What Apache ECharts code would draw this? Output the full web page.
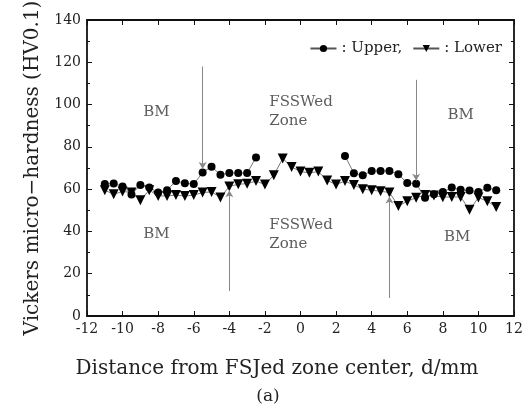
<!DOCTYPE html>
<html>
<head>
<meta charset="utf-8">
<script src="https://cdn.jsdelivr.net/npm/echarts@6/dist/echarts.min.js"></script>
<style>
html,body{margin:0;padding:0;background:#fff;}
#c{width:527px;height:419px;}
</style>
</head>
<body>
<div id="c"></div>
<script>
var distance = [-11,-10.5,-10,-9.5,-9,-8.5,-8,-7.5,-7,-6.5,-6,-5.5,-5,-4.5,-4,-3.5,-3,-2.5,-2,-1.5,-1,-0.5,0,0.5,1,1.5,2,2.5,3,3.5,4,4.5,5,5.5,6,6.5,7,7.5,8,8.5,9,9.5,10,10.5,11];
var upper = [62.4,62.7,61.3,57.5,62,60.8,58.4,59.5,63.8,62.8,62.4,67.9,70.6,66.8,67.6,67.6,67.6,75,
             null,null,null,null,null,null,null,null,null,
             75.7,67.5,66.6,68.6,68.6,68.6,67,62.9,62.6,55.9,57.6,58.6,60.8,59.7,59.4,58.6,60.7,59.5];
var lower = [59.5,57.6,58.9,58.4,54.8,59.5,56.8,56.8,57.2,56.7,57.2,58.4,58.7,56.1,61.3,62.3,62.6,63.8,62.2,66.6,74.5,70.5,68.3,67.7,68.3,64.1,62.2,63.8,62,60,59.5,59,58.4,52,54.3,55.9,57.2,57,56.2,56.3,56.3,50.2,56,54.3,51.5];
var xTicks = [-12,-10,-8,-6,-4,-2,0,2,4,6,8,10,12];
var yTicks = [0,20,40,60,80,100,120,140];
var arrows = [ // [x, from, to]
  [-5.5, 118, 69.5],
  [6.5, 111.7, 64],
  [-4, 11.8, 59.5],
  [5, 8.5, 56.5]
];
var notes = [ // [x, y, text, align]
  [-8.1, 96.5, 'BM', 'center'],
  [-1.75, 96.5, 'FSSWed\nZone', 'left'],
  [9.0, 95, 'BM', 'center'],
  [-8.1, 38.5, 'BM', 'center'],
  [-1.75, 38.5, 'FSSWed\nZone', 'left'],
  [8.8, 37.5, 'BM', 'center']
];

var FONT = 'DejaVu Serif';
function pairs(xs, ys){ return xs.map(function(x,i){ return [x, ys[i] === null ? '-' : ys[i]]; }); }

var chart = echarts.init(document.getElementById('c'), null, {renderer:'canvas'});
function axisLine(){ return {show:true, onZero:false, lineStyle:{color:'#111', width:1.8}}; }
var option = {
  backgroundColor:'#fff',
  animation:false,
  title:[
    {text:'Distance from FSJed zone center, d/mm', left:272, top:354, textAlign:'center',
     textStyle:{fontFamily:FONT, fontSize:20, fontWeight:'normal', color:'#222'}},
    {text:'(a)', left:263, top:383, textAlign:'center', textStyle:{fontFamily:FONT, fontSize:17, fontWeight:'normal', color:'#222'}}
  ],
  legend:{
    top:36, right:20, itemWidth:26, itemHeight:9, itemGap:10,
    textStyle:{fontFamily:FONT, fontSize:15, color:'#222'},
    formatter:function(n){ return n === 'Upper' ? ': Upper,' : ': Lower'; },
    data:['Upper','Lower']
  },
  grid:{left:87, right:13, top:20, bottom:103, outerBoundsMode:'none', containLabel:false},
  xAxis:[{
    type:'value', gridIndex:0, min:xTicks[0], max:xTicks[xTicks.length-1], interval:2,
    axisLine:axisLine(), axisTick:{inside:true, length:5, lineStyle:{color:'#111'}},
    splitLine:{show:false},
    axisLabel:{fontFamily:FONT, fontSize:14, color:'#222', margin:6}
  },{
    type:'value', gridIndex:0, position:'top', min:xTicks[0], max:xTicks[xTicks.length-1], interval:2,
    axisLine:axisLine(), axisTick:{show:true, inside:true, length:5, lineStyle:{color:'#111'}},
    splitLine:{show:false}, axisLabel:{show:false}
  }],
  yAxis:[{
    type:'value', gridIndex:0, min:yTicks[0], max:yTicks[yTicks.length-1], interval:20,
    axisLine:axisLine(), axisTick:{inside:true, length:5, lineStyle:{color:'#111'}},
    minorTick:{show:true, splitNumber:2, length:3, lineStyle:{color:'#111'}},
    splitLine:{show:false},
    axisLabel:{fontFamily:FONT, fontSize:14, color:'#222', margin:6},
    name:'Vickers micro\u2212hardness (HV0.1)', nameLocation:'middle', nameGap:44,
    nameTextStyle:{fontFamily:FONT, fontSize:20, color:'#222'}
  },{
    type:'value', gridIndex:0, position:'right', min:yTicks[0], max:yTicks[yTicks.length-1], interval:20,
    axisLine:axisLine(), axisTick:{show:true, inside:true, length:5, lineStyle:{color:'#111'}},
    minorTick:{show:true, splitNumber:2, length:3, lineStyle:{color:'#111'}},
    splitLine:{show:false}, axisLabel:{show:false}
  }],
  series:[{
    name:'Upper', type:'line', data:pairs(distance, upper), connectNulls:false,
    symbol:'circle', symbolSize:8, itemStyle:{color:'#000'},
    lineStyle:{color:'#555', width:0.8}, z:3
  },{
    name:'Lower', type:'line', data:pairs(distance, lower),
    symbol:'triangle', symbolRotate:180, symbolSize:10, itemStyle:{color:'#000'},
    lineStyle:{color:'#555', width:0.8}, z:2,
    markLine:{
      silent:true, symbol:['none','arrow'], symbolSize:[6,7], precision:2,
      lineStyle:{color:'#888', width:1, type:'solid'}, label:{show:false},
      data:arrows.map(function(a){ return [{coord:[a[0],a[1]]},{coord:[a[0],a[2]]}]; })
    }
  },{
    name:'notes', type:'scatter', symbolSize:0, silent:true,
    data:notes.map(function(n){ return {value:[n[0],n[1]], label:{formatter:n[2], align:n[3]}}; }),
    label:{show:true, position:'inside', fontFamily:FONT, fontSize:15, color:'#333', lineHeight:19}
  },{
    name:'frame', type:'line', xAxisIndex:1, yAxisIndex:1, data:[], silent:true
  }]
};
chart.setOption(option);
</script>
</body>
</html>
